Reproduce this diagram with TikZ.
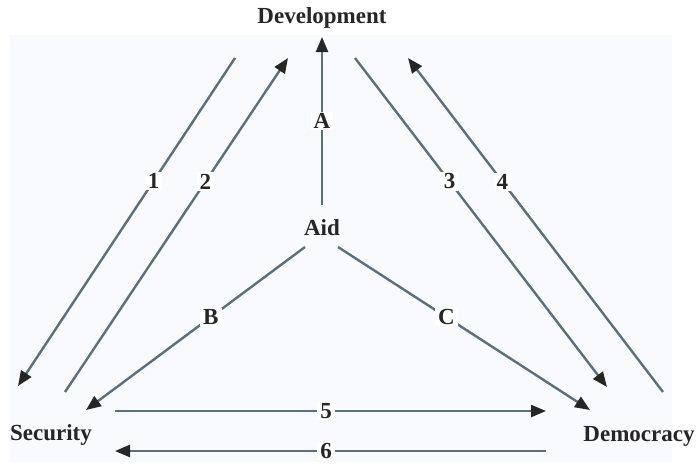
\documentclass[tikz,border=0pt]{standalone}
\usepackage{fontspec}
\setmainfont{Liberation Serif}
\usetikzlibrary{arrows.meta}

\definecolor{linkgray}{RGB}{92,112,124}
\definecolor{paper}{RGB}{249,250,253}

\begin{document}
\begin{tikzpicture}[
  x=1pt, y=-1pt,
  font=\bfseries\fontsize{23}{26}\selectfont,
  corner/.style={inner sep=2pt, text=black!85},
  link/.style={-{Triangle[length=15pt, width=12pt, color=black!85]},
               line width=2.4pt, linkgray},
  num/.style={fill=white, inner xsep=3pt, inner ysep=1.5pt, text=black!85},
]
  \useasboundingbox (0,0) rectangle (698,464);
  \fill[paper] (10,35) rectangle (672,462);

  % corners of the triangle
  \node[corner] (dev) at (322,18)  {Development};
  \node[corner] (aid) at (322,228) {Aid};
  \node[corner] (sec) at (51,435)  {Security};
  \node[corner] (dem) at (639,436) {Democracy};

  % free ends of the arrows
  \coordinate (a1s) at (235,58);  \coordinate (a1e) at (18,386);
  \coordinate (a2s) at (65,392);  \coordinate (a2e) at (288,58);
  \coordinate (a3s) at (355,58);  \coordinate (a3e) at (607,387);
  \coordinate (a4s) at (663,392); \coordinate (a4e) at (408,58);
  \coordinate (aAs) at (322,205); \coordinate (aAe) at (322,37);
  \coordinate (aBs) at (305,247); \coordinate (aBe) at (86,410);
  \coordinate (aCs) at (338,247); \coordinate (aCe) at (590,410);
  \coordinate (a5s) at (115,411); \coordinate (a5e) at (546,411);
  \coordinate (a6s) at (546,451); \coordinate (a6e) at (115,451);

  % security <-> development
  \draw[link] (a1s) -- node[num, pos=0.375] {1} (a1e);
  \draw[link] (a2s) -- node[num, pos=0.63] {2} (a2e);

  % development <-> democracy
  \draw[link] (a3s) -- node[num, pos=0.375] {3} (a3e);
  \draw[link] (a4s) -- node[num, pos=0.63] {4} (a4e);

  % aid
  \draw[link] (aAs) -- node[num, pos=0.5] {A} (aAe);
  \draw[link] (aBs) -- node[num, pos=0.43] {B} (aBe);
  \draw[link] (aCs) -- node[num, pos=0.43] {C} (aCe);

  % security <-> democracy
  \draw[link] (a5s) -- node[num, pos=0.49] {5} (a5e);
  \draw[link] (a6s) -- node[num, pos=0.51] {6} (a6e);
\end{tikzpicture}
\end{document}
